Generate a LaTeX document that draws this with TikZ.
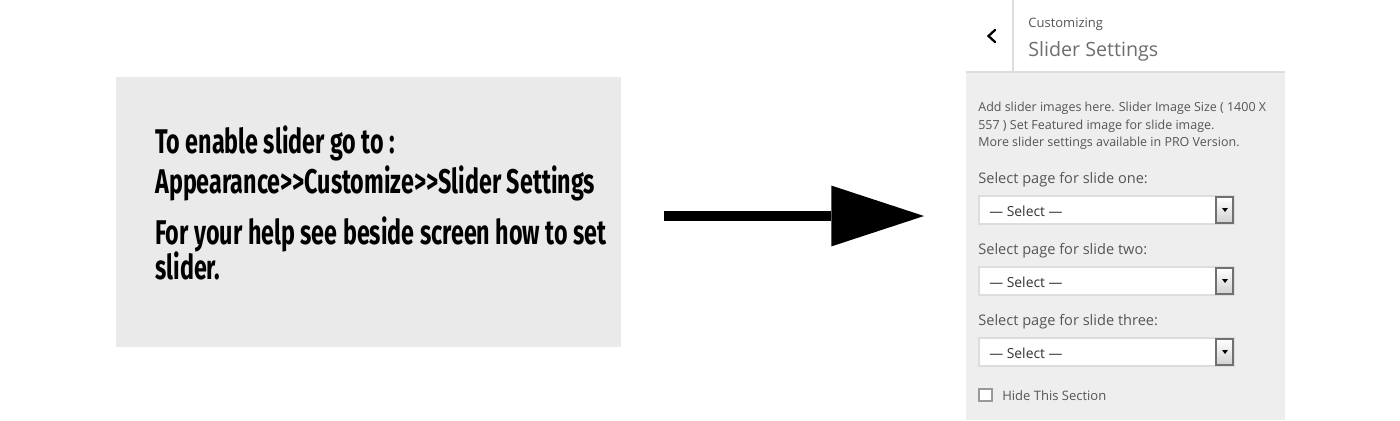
\documentclass[tikz,border=0pt]{standalone}
\usepackage{fontspec}
\usepackage{xcolor}
\usepackage{tikz}
\usetikzlibrary{positioning, arrows.meta}
\setmainfont{Open Sans}
\newfontfamily\headfont[FakeStretch=0.68]{Fira Sans}

\definecolor{boxgray}{HTML}{EAEAEA}
\definecolor{panelgray}{HTML}{EEEEEE}
\definecolor{linegray}{HTML}{DDDDDD}
\definecolor{wptext}{HTML}{555555}
\definecolor{btnborder}{HTML}{707070}

\begin{document}
\begin{tikzpicture}[
    x=0.02cm, y=-0.02cm,
    infobox/.style={fill=boxgray, minimum width=10.1cm, minimum height=5.4cm, inner sep=0},
    headline/.style={anchor=base west, inner sep=0, font=\headfont\bfseries\fontsize{19.5}{22}\selectfont},
    bigarrow/.style={line width=6.2pt, -{Triangle[length=52.7pt, width=34.6pt, line width=0pt]}},
    paneltext/.style={anchor=base west, inner sep=0, text=wptext, font=\fontsize{7.1}{9}\selectfont},
    fieldlabel/.style={anchor=base west, inner sep=0, text=wptext, font=\fontsize{8.3}{10}\selectfont},
    selecttext/.style={anchor=base west, inner sep=0, text=black!80, font=\fontsize{7.9}{9}\selectfont},
    dropbox/.style={draw=linegray, fill=white, line width=0.6pt}
]
\useasboundingbox (0,0) rectangle (1400,420);

% left box
\node[infobox] (info) at (368.5,212) {};
\node[headline] (l1) at (155,153) {To enable slider go to :};
\node[headline] (l2) at (155,193) {Appearance>{}>Customize>{}>Slider Settings};
\node[headline] (l3) at (155,244) {For your help see beside screen how to set};
\node[headline] (l4) at (155,279) {slider.};

% arrow
\coordinate (astart) at (664,216);
\coordinate (atip) at (924,216);
\draw[bigarrow] (astart) -- (atip);

% customizer panel
\fill[panelgray] (966,72) rectangle (1285,420);
\draw[linegray, line width=0.7pt] (966,72) -- (1285,72);
\draw[linegray, line width=0.7pt] (1013,0) -- (1013,72);
\draw[line width=1.3pt, line cap=round] (995,30) -- (988.5,36) -- (995,42);
\node[paneltext, font=\fontsize{7.4}{9}\selectfont] (cust) at (1028,27) {Customizing};
\node[paneltext, text=wptext!85, font=\fontsize{11.2}{13}\selectfont] (title) at (1028,56) {Slider Settings};

\node[paneltext] (d1) at (978,111) {Add slider images here. Slider Image Size ( 1400 X};
\node[paneltext] (d2) at (978,129) {557 ) Set Featured image for slide image.};
\node[paneltext] (d3) at (978,146) {More slider settings available in PRO Version.};

\foreach \i/\word/\y in {1/one/183, 2/two/254, 3/three/325}{
  \node[fieldlabel] (lab\i) at (978,\y) {Select page for slide \word:};
  \draw[dropbox] (979,\y+13) rectangle (1234,\y+41);
  \shade[top color=white, bottom color=black!18, draw=btnborder, line width=0.6pt] (1216,\y+14) rectangle (1233,\y+40);
  \fill (1222,\y+25) -- (1228,\y+25) -- (1225,\y+29) -- cycle;
  \node[selecttext] (sel\i) at (989,\y+33) {\textemdash\ Select \textemdash};
}

\draw[draw=black!40, fill=white, line width=0.9pt] (979,389) rectangle (992,401);
\node[paneltext, font=\fontsize{7.4}{9}\selectfont] (hide) at (1002,400) {Hide This Section};
\end{tikzpicture}
\end{document}
